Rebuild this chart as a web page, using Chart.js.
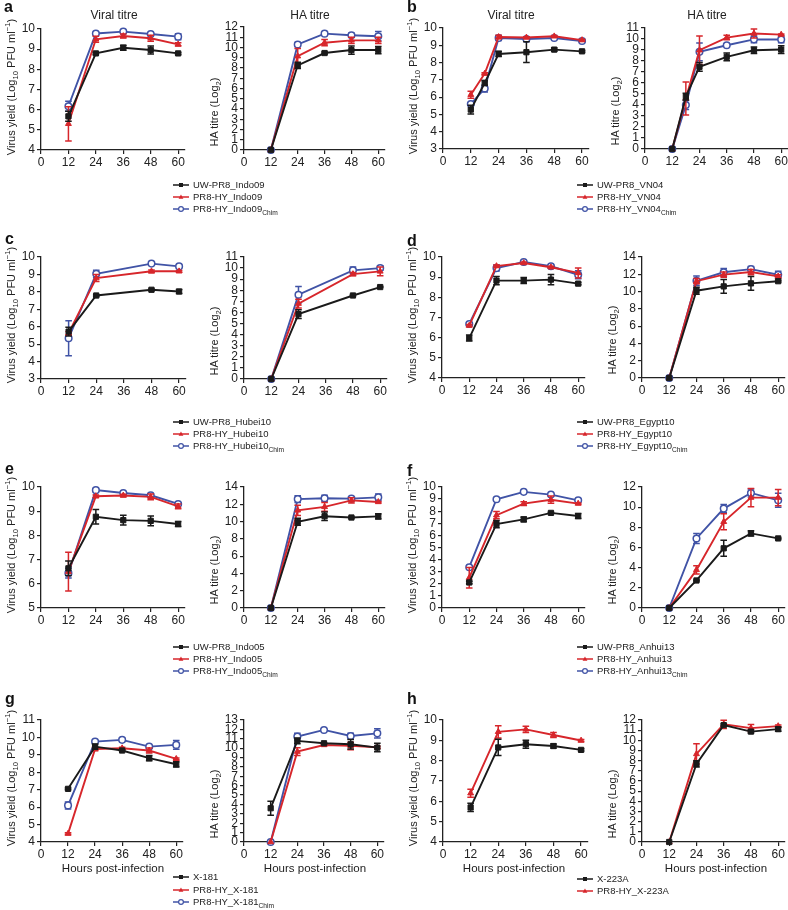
<!DOCTYPE html>
<html><head><meta charset="utf-8">
<script src="https://cdn.jsdelivr.net/npm/chart.js@4.4.1/dist/chart.umd.min.js"></script>
<style>
html,body{margin:0;padding:0;background:#fff;}
body{width:788px;height:910px;overflow:hidden;position:relative;font-family:"Liberation Sans",Arial,Helvetica,sans-serif;color:#222;}
.rot{position:absolute;white-space:nowrap;transform:translate(-50%,-50%) rotate(-90deg);font-size:11px;line-height:12px;}
.letter{position:absolute;font-weight:bold;font-size:16px;line-height:16px;color:#111;}
.title{position:absolute;white-space:nowrap;font-size:12px;line-height:12px;transform:translate(-50%,-50%);}
.leg{position:absolute;font-size:9.5px;line-height:12px;height:12px;display:flex;align-items:center;white-space:nowrap;}
.leg svg{margin-right:4px;}
sub,sup{font-size:70%;line-height:0;}
</style></head><body>
<script>
// ---------------- DATA ----------------
const xTicks = [0, 12, 24, 36, 48, 60];
const hours = [12, 24, 36, 48, 60];
const hoursB = [12, 18, 24, 36, 48, 60];
const hoursC = [12, 24, 48, 60];

const strainsA = ['UW-PR8_Indo09', 'PR8-HY_Indo09', 'PR8-HY_Indo09'];
const strainsB = ['UW-PR8_VN04', 'PR8-HY_VN04', 'PR8-HY_VN04'];
const strainsC = ['UW-PR8_Hubei10', 'PR8-HY_Hubei10', 'PR8-HY_Hubei10'];
const strainsD = ['UW-PR8_Egypt10', 'PR8-HY_Egypt10', 'PR8-HY_Egypt10'];
const strainsE = ['UW-PR8_Indo05', 'PR8-HY_Indo05', 'PR8-HY_Indo05'];
const strainsF = ['UW-PR8_Anhui13', 'PR8-HY_Anhui13', 'PR8-HY_Anhui13'];
const strainsG = ['X-181', 'PR8-HY_X-181', 'PR8-HY_X-181'];
const strainsH = ['X-223A', 'PR8-HY_X-223A'];

// tick labels
const aVirTicks = [4, 5, 6, 7, 8, 9, 10];
const aHaTicks = [0, 1, 2, 3, 4, 5, 6, 7, 8, 9, 10, 11, 12];
const bVirTicks = [3, 4, 5, 6, 7, 8, 9, 10];
const bHaTicks = [0, 1, 2, 3, 4, 5, 6, 7, 8, 9, 10, 11];
const cVirTicks = [3, 4, 5, 6, 7, 8, 9, 10];
const cHaTicks = [0, 1, 2, 3, 4, 5, 6, 7, 8, 9, 10, 11];
const dVirTicks = [4, 5, 6, 7, 8, 9, 10];
const dHaTicks = [0, 2, 4, 6, 8, 10, 12, 14];
const eVirTicks = [5, 6, 7, 8, 9, 10];
const eHaTicks = [0, 2, 4, 6, 8, 10, 12, 14];
const fVirTicks = [0, 1, 2, 3, 4, 5, 6, 7, 8, 9, 10];
const fHaTicks = [0, 2, 4, 6, 8, 10, 12];
const gVirTicks = [4, 5, 6, 7, 8, 9, 10, 11];
const gHaTicks = [0, 1, 2, 3, 4, 5, 6, 7, 8, 9, 10, 11, 12, 13];
const hVirTicks = [4, 5, 6, 7, 8, 9, 10];
const hHaTicks = [0, 1, 2, 3, 4, 5, 6, 7, 8, 9, 10, 11, 12];

// a
const aVirUW = [5.67, 8.79, 9.07, 8.96, 8.79], aVirUWsd = [0.25, 0.05, 0.12, 0.2, 0.05];
const aVirHY = [5.3, 9.49, 9.65, 9.54, 9.24], aVirHYsd = [0.85, 0.15, 0.1, 0.15, 0.08];
const aVirCh = [6.17, 9.78, 9.87, 9.75, 9.62], aVirChsd = [0.25, 0.05, 0.05, 0.05, 0.15];
const aHaUW = [0, 8.26, 9.46, 9.75, 9.75], aHaUWsd = [0, 0.3, 0.1, 0.4, 0.35];
const aHaHY = [0, 9.15, 10.47, 10.7, 10.7], aHaHYsd = [0, 0.75, 0.3, 0.3, 0.3];
const aHaCh = [0, 10.3, 11.35, 11.2, 11.1], aHaChsd = [0, 0.2, 0.05, 0.2, 0.45];
// b
const bVirUW = [5.28, 6.82, 8.5, 8.6, 8.75, 8.65], bVirUWsd = [0.25, 0.15, 0.15, 0.6, 0.1, 0.05];
const bVirHY = [6.14, 7.36, 9.48, 9.45, 9.52, 9.3], bVirHYsd = [0.2, 0.05, 0.1, 0.05, 0.05, 0.05];
const bVirCh = [5.6, 6.5, 9.42, 9.36, 9.42, 9.25], bVirChsd = [0.05, 0.2, 0.15, 0.05, 0.05, 0.05];
const bHaUW = [0, 4.76, 7.47, 8.38, 8.98, 9.04], bHaUWsd = [0, 0.3, 0.4, 0.35, 0.3, 0.35];
const bHaHY = [0, 4.6, 8.98, 10.13, 10.5, 10.4], bHaHYsd = [0, 1.5, 1.3, 0.2, 0.4, 0.05];
const bHaCh = [0, 4.0, 8.83, 9.43, 9.97, 9.95], bHaChsd = [0, 0.4, 0.8, 0.05, 0.3, 0.3];
// c
const cVirUW = [5.72, 7.79, 8.12, 8.02], cVirUWsd = [0.25, 0.05, 0.05, 0.12];
const cVirHY = [5.63, 8.79, 9.18, 9.18], cVirHYsd = [0.1, 0.2, 0.08, 0.05];
const cVirCh = [5.34, 9.04, 9.62, 9.46], cVirChsd = [1.0, 0.2, 0.05, 0.05];
const cHaUW = [0, 5.85, 7.53, 8.29], cHaUWsd = [0, 0.4, 0.05, 0.05];
const cHaHY = [0, 6.8, 9.46, 9.7], cHaHYsd = [0, 0.4, 0.15, 0.4];
const cHaCh = [0, 7.6, 9.8, 10.0], cHaChsd = [0, 0.75, 0.3, 0.2];
// d
const dVirUW = [5.98, 8.83, 8.83, 8.88, 8.68], dVirUWsd = [0.15, 0.2, 0.15, 0.25, 0.05];
const dVirHY = [6.6, 9.55, 9.7, 9.49, 9.21], dVirHYsd = [0.05, 0.05, 0.05, 0.05, 0.25];
const dVirCh = [6.68, 9.45, 9.75, 9.54, 9.12], dVirChsd = [0.05, 0.15, 0.05, 0.05, 0.2];
const dHaUW = [0, 10.1, 10.6, 10.95, 11.2], dHaUWsd = [0, 0.4, 0.8, 0.8, 0.1];
const dHaHY = [0, 11.2, 11.96, 12.26, 11.76], dHaHYsd = [0, 0.3, 0.3, 0.3, 0.2];
const dHaCh = [0, 11.26, 12.23, 12.6, 11.95], dHaChsd = [0, 0.55, 0.45, 0.3, 0.4];
// e
const eVirUW = [6.64, 8.77, 8.63, 8.6, 8.47], eVirUWsd = [0.3, 0.3, 0.2, 0.2, 0.1];
const eVirHY = [6.5, 9.62, 9.65, 9.59, 9.2], eVirHYsd = [0.8, 0.05, 0.05, 0.12, 0.1];
const eVirCh = [6.44, 9.87, 9.75, 9.66, 9.3], eVirChsd = [0.2, 0.07, 0.05, 0.05, 0.05];
const eHaUW = [0, 9.97, 10.62, 10.47, 10.6], eHaUWsd = [0, 0.4, 0.5, 0.05, 0.3];
const eHaHY = [0, 11.3, 11.7, 12.45, 12.27], eHaHYsd = [0, 0.6, 0.5, 0.3, 0.05];
const eHaCh = [0, 12.6, 12.7, 12.65, 12.8], eHaChsd = [0, 0.4, 0.35, 0.2, 0.4];
// f
const fVirUW = [2.11, 6.93, 7.32, 7.86, 7.6], fVirUWsd = [0.1, 0.3, 0.2, 0.05, 0.2];
const fVirHY = [2.5, 7.67, 8.63, 8.95, 8.63], fVirHYsd = [0.85, 0.3, 0.15, 0.3, 0.05];
const fVirCh = [3.37, 8.99, 9.6, 9.37, 8.9], fVirChsd = [0.05, 0.05, 0.05, 0.05, 0.05];
const fHaUW = [0, 2.73, 5.92, 7.4, 6.9], fHaUWsd = [0, 0.05, 0.8, 0.25, 0.05];
const fHaHY = [0, 3.78, 8.55, 10.95, 10.95], fHaHYsd = [0, 0.4, 0.8, 0.9, 0.8];
const fHaCh = [0, 6.9, 9.86, 11.41, 10.68], fHaChsd = [0, 0.5, 0.4, 0.4, 0.7];
// g
const gVirUW = [7.05, 9.47, 9.25, 8.81, 8.46], gVirUWsd = [0.05, 0.15, 0.05, 0.15, 0.15];
const gVirHY = [4.48, 9.34, 9.38, 9.25, 8.77], gVirHYsd = [0.05, 0.1, 0.05, 0.15, 0.05];
const gVirCh = [6.1, 9.76, 9.86, 9.47, 9.57], gVirChsd = [0.2, 0.05, 0.1, 0.05, 0.25];
const gHaUW = [3.6, 10.77, 10.52, 10.41, 10.06], gHaUWsd = [0.75, 0.3, 0.05, 0.5, 0.45];
const gHaHY = [0, 9.63, 10.34, 10.24, 10.1], gHaHYsd = [0, 0.4, 0.1, 0.4, 0.1];
const gHaCh = [0, 11.23, 11.94, 11.3, 11.58], gHaChsd = [0, 0.35, 0.05, 0.3, 0.5];
// h
const hVirUW = [5.7, 8.65, 8.81, 8.72, 8.53], hVirUWsd = [0.2, 0.4, 0.2, 0.1, 0.05];
const hVirHY = [6.4, 9.42, 9.54, 9.26, 8.99], hVirHYsd = [0.2, 0.3, 0.15, 0.12, 0.05];
const hHaUW = [0, 7.68, 11.5, 10.86, 11.1], hHaUWsd = [0, 0.3, 0.1, 0.15, 0.2];
const hHaHY = [0, 8.66, 11.57, 11.2, 11.4], hHaHYsd = [0, 1.0, 0.4, 0.35, 0.1];

// ---------------- STYLE / LAYOUT ----------------
const FONT = "'Liberation Sans', Arial, Helvetica, sans-serif";
const COL = { uw: '#1a1a1a', hy: '#d7262b', ch: '#4053a6' };
const AXIS = '#222';

const errPlugin = {
  id: 'errbars',
  beforeDatasetDraw(chart, args) {
    const ds = chart.data.datasets[args.index];
    if (!ds.errs) return;
    const ys = chart.scales.y, ctx = chart.ctx;
    ctx.save();
    ctx.strokeStyle = ds.borderColor;
    ctx.lineWidth = 1.5;
    args.meta.data.forEach((pt, i) => {
      const e = ds.errs[i];
      if (!e) return;
      const v = ds.data[i].y;
      const yt = ys.getPixelForValue(v + e), yb = ys.getPixelForValue(v - e);
      const x = pt.x;
      ctx.beginPath();
      ctx.moveTo(x, yt); ctx.lineTo(x, yb);
      ctx.moveTo(x - 3.3, yt); ctx.lineTo(x + 3.3, yt);
      ctx.moveTo(x - 3.3, yb); ctx.lineTo(x + 3.3, yb);
      ctx.stroke();
    });
    ctx.restore();
  }
};

function styleFor(kind) {
  if (kind === 'uw') return { pointStyle: 'rect', pointRadius: 3.7, pointBackgroundColor: COL.uw, pointBorderColor: COL.uw, pointBorderWidth: 1 };
  if (kind === 'hy') return { pointStyle: 'triangle', pointRadius: 3.4, pointBackgroundColor: COL.hy, pointBorderColor: COL.hy, pointBorderWidth: 1 };
  return { pointStyle: 'circle', pointRadius: 3.3, pointBackgroundColor: '#fff', pointBorderColor: COL.ch, pointBorderWidth: 1.5 };
}

function addChart(box, xs, yTicks, series) {
  const XMAX = 63, padL = 36, padT = 8, padR = 10, padB = 24;
  const right = box.x0 + (box.x60 - box.x0) * XMAX / 60;
  const aw = Math.round(right - box.x0);
  const w = aw + padL + padR;
  const h = (box.bottom - box.top) + padT + padB;
  const c = document.createElement('canvas');
  c.width = w; c.height = h;
  c.style.cssText = `position:absolute;left:${box.x0 - padL}px;top:${box.top - padT}px;width:${w}px;height:${h}px;`;
  document.body.appendChild(c);
  const tickFont = { family: FONT, size: 12 };
  new Chart(c, {
    type: 'line',
    data: {
      datasets: series.map(s => Object.assign({
        data: xs.map((x, i) => ({ x: x, y: s.vals[i] })),
        errs: s.sd,
        borderColor: COL[s.kind],
        backgroundColor: COL[s.kind],
        borderWidth: 1.9,
        tension: 0,
        clip: false,
        fill: false
      }, styleFor(s.kind)))
    },
    options: {
      responsive: false, animation: false, devicePixelRatio: 1, events: [],
      layout: { padding: { top: padT, right: padR, left: 0, bottom: 0 } },
      plugins: { legend: { display: false }, tooltip: { enabled: false }, title: { display: false } },
      scales: {
        x: {
          type: 'linear', min: 0, max: XMAX,
          afterBuildTicks: s => { s.ticks = xTicks.map(v => ({ value: v })); },
          afterFit: s => { s.height = padB; s.paddingLeft = 0; s.paddingRight = 0; },
          ticks: { font: tickFont, color: AXIS, padding: 1, autoSkip: false, maxRotation: 0 },
          grid: { display: true, drawOnChartArea: false, drawTicks: true, tickLength: 4, color: AXIS, lineWidth: 1.2 },
          border: { display: true, color: AXIS, width: 1.3 }
        },
        y: {
          type: 'linear', min: yTicks[0], max: yTicks[yTicks.length - 1],
          afterBuildTicks: s => { s.ticks = yTicks.map(v => ({ value: v })); },
          afterFit: s => { s.width = padL; s.paddingTop = 0; s.paddingBottom = 0; },
          ticks: { font: tickFont, color: AXIS, padding: 2, autoSkip: false },
          grid: { display: true, drawOnChartArea: false, drawTicks: true, tickLength: 4, color: AXIS, lineWidth: 1.2 },
          border: { display: true, color: AXIS, width: 1.3 }
        }
      }
    },
    plugins: [errPlugin]
  });
}

function el(cls, html, css) {
  const d = document.createElement('div');
  d.className = cls; d.innerHTML = html; d.style.cssText = css;
  document.body.appendChild(d);
  return d;
}
const VIR_LABEL = 'Virus yield (Log<sub>10</sub> PFU ml<sup>−1</sup>)';
const HA_LABEL = 'HA titre (Log<sub>2</sub>)';

function yLabels(boxV, boxH) {
  el('rot', VIR_LABEL, `left:${boxV.x0 - 30}px;top:${(boxV.top + boxV.bottom) / 2 - 3}px;`);
  el('rot', HA_LABEL, `left:${boxH.x0 - 30}px;top:${boxH.bottom - 38}px;`);
}

function markerSvg(kind) {
  const c = COL[kind];
  let m;
  if (kind === 'uw') m = `<rect x="6" y="2" width="4" height="4" fill="${c}"/>`;
  else if (kind === 'hy') m = `<polygon points="8,1.6 10.4,5.8 5.6,5.8" fill="${c}"/>`;
  else m = `<circle cx="8" cy="4" r="2.4" fill="#fff" stroke="${c}" stroke-width="1.2"/>`;
  return `<svg width="16" height="8" viewBox="0 0 16 8"><line x1="0" y1="4" x2="16" y2="4" stroke="${c}" stroke-width="1.5"/>${m}</svg>`;
}

function legend(x, ys, names, kinds) {
  names.forEach((n, i) => {
    const label = kinds[i] === 'ch' ? n + '<sub>Chim</sub>' : n;
    el('leg', markerSvg(kinds[i]) + '<span>' + label + '</span>', `left:${x}px;top:${ys[i] - 6}px;`);
  });
}

const K3 = ['uw', 'hy', 'ch'];
const boxes = {
  aV: { x0: 41, x60: 178, top: 29, bottom: 150 },  aH: { x0: 244, x60: 378, top: 27, bottom: 150 },
  bV: { x0: 443, x60: 582, top: 28, bottom: 149 }, bH: { x0: 645, x60: 781, top: 28, bottom: 149 },
  cV: { x0: 41, x60: 179, top: 257, bottom: 379 }, cH: { x0: 244, x60: 380, top: 257, bottom: 379 },
  dV: { x0: 442, x60: 578, top: 257, bottom: 378 }, dH: { x0: 642, x60: 778, top: 257, bottom: 378 },
  eV: { x0: 41, x60: 178, top: 487, bottom: 608 }, eH: { x0: 244, x60: 378, top: 487, bottom: 608 },
  fV: { x0: 442, x60: 578, top: 487, bottom: 608 }, fH: { x0: 642, x60: 778, top: 487, bottom: 608 },
  gV: { x0: 41, x60: 176, top: 720, bottom: 842 }, gH: { x0: 244, x60: 377, top: 720, bottom: 842 },
  hV: { x0: 443, x60: 581, top: 720, bottom: 842 }, hH: { x0: 642, x60: 778, top: 720, bottom: 842 }
};

function S(kind, vals, sd) { return { kind, vals, sd }; }

// charts
addChart(boxes.aV, hours, aVirTicks, [S('uw', aVirUW, aVirUWsd), S('hy', aVirHY, aVirHYsd), S('ch', aVirCh, aVirChsd)]);
addChart(boxes.aH, hours, aHaTicks, [S('uw', aHaUW, aHaUWsd), S('hy', aHaHY, aHaHYsd), S('ch', aHaCh, aHaChsd)]);
addChart(boxes.bV, hoursB, bVirTicks, [S('uw', bVirUW, bVirUWsd), S('hy', bVirHY, bVirHYsd), S('ch', bVirCh, bVirChsd)]);
addChart(boxes.bH, hoursB, bHaTicks, [S('uw', bHaUW, bHaUWsd), S('hy', bHaHY, bHaHYsd), S('ch', bHaCh, bHaChsd)]);
addChart(boxes.cV, hoursC, cVirTicks, [S('uw', cVirUW, cVirUWsd), S('hy', cVirHY, cVirHYsd), S('ch', cVirCh, cVirChsd)]);
addChart(boxes.cH, hoursC, cHaTicks, [S('uw', cHaUW, cHaUWsd), S('hy', cHaHY, cHaHYsd), S('ch', cHaCh, cHaChsd)]);
addChart(boxes.dV, hours, dVirTicks, [S('uw', dVirUW, dVirUWsd), S('hy', dVirHY, dVirHYsd), S('ch', dVirCh, dVirChsd)]);
addChart(boxes.dH, hours, dHaTicks, [S('uw', dHaUW, dHaUWsd), S('hy', dHaHY, dHaHYsd), S('ch', dHaCh, dHaChsd)]);
addChart(boxes.eV, hours, eVirTicks, [S('uw', eVirUW, eVirUWsd), S('hy', eVirHY, eVirHYsd), S('ch', eVirCh, eVirChsd)]);
addChart(boxes.eH, hours, eHaTicks, [S('uw', eHaUW, eHaUWsd), S('hy', eHaHY, eHaHYsd), S('ch', eHaCh, eHaChsd)]);
addChart(boxes.fV, hours, fVirTicks, [S('uw', fVirUW, fVirUWsd), S('hy', fVirHY, fVirHYsd), S('ch', fVirCh, fVirChsd)]);
addChart(boxes.fH, hours, fHaTicks, [S('uw', fHaUW, fHaUWsd), S('hy', fHaHY, fHaHYsd), S('ch', fHaCh, fHaChsd)]);
addChart(boxes.gV, hours, gVirTicks, [S('uw', gVirUW, gVirUWsd), S('hy', gVirHY, gVirHYsd), S('ch', gVirCh, gVirChsd)]);
addChart(boxes.gH, hours, gHaTicks, [S('uw', gHaUW, gHaUWsd), S('hy', gHaHY, gHaHYsd), S('ch', gHaCh, gHaChsd)]);
addChart(boxes.hV, hours, hVirTicks, [S('uw', hVirUW, hVirUWsd), S('hy', hVirHY, hVirHYsd)]);
addChart(boxes.hH, hours, hHaTicks, [S('uw', hHaUW, hHaUWsd), S('hy', hHaHY, hHaHYsd)]);

// axis titles
yLabels(boxes.aV, boxes.aH); yLabels(boxes.bV, boxes.bH);
yLabels(boxes.cV, boxes.cH); yLabels(boxes.dV, boxes.dH);
yLabels(boxes.eV, boxes.eH); yLabels(boxes.fV, boxes.fH);
yLabels(boxes.gV, boxes.gH); yLabels(boxes.hV, boxes.hH);

el('title', 'Viral titre', 'left:114px;top:15px;');
el('title', 'HA titre', 'left:310px;top:15px;');
el('title', 'Viral titre', 'left:511px;top:15px;');
el('title', 'HA titre', 'left:707px;top:15px;');
el('title', 'Hours post-infection', 'left:113px;top:868px;font-size:11.5px;');
el('title', 'Hours post-infection', 'left:315px;top:868px;font-size:11.5px;');
el('title', 'Hours post-infection', 'left:514px;top:868px;font-size:11.5px;');
el('title', 'Hours post-infection', 'left:716px;top:868px;font-size:11.5px;');

// panel letters
[['a', 4, -1], ['b', 407, -1], ['c', 5, 231], ['d', 407, 233], ['e', 5, 461], ['f', 407, 463], ['g', 5, 691], ['h', 407, 691]]
  .forEach(([t, x, y]) => el('letter', t, `left:${x}px;top:${y}px;`));

// legends
legend(173, [185, 197, 209], strainsA, K3);
legend(577, [185, 197, 209], strainsB, K3);
legend(173, [422, 434, 446], strainsC, K3);
legend(577, [422, 434, 446], strainsD, K3);
legend(173, [647, 659, 671], strainsE, K3);
legend(577, [647, 659, 671], strainsF, K3);
legend(173, [877, 890, 902], strainsG, K3);
legend(577, [879, 891], strainsH, ['uw', 'hy']);
</script>
</body></html>
